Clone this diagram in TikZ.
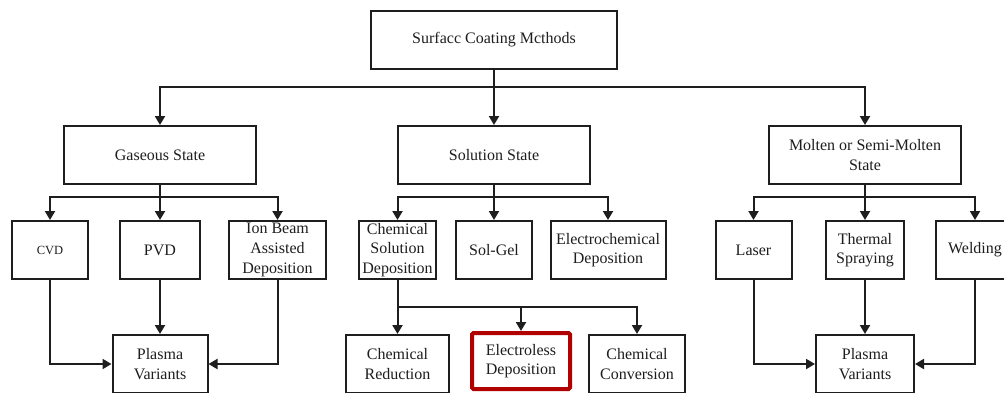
\documentclass[tikz,border=0pt]{standalone}
\usepackage{fontspec}
\setmainfont{Liberation Serif}
\usetikzlibrary{arrows.meta}
\definecolor{ink}{HTML}{1E1E1E}
\definecolor{hired}{HTML}{B00000}
\tikzset{
  box/.style={draw=ink, line width=2pt, align=center, inner sep=1pt,
    minimum height=58pt, text=ink, font=\rmfamily\fontsize{16}{19.6}\selectfont},
  redbox/.style={box, draw=hired, line width=4pt, rounded corners=1.5pt},
  arr/.style={draw=ink, line width=2pt, -{Triangle[length=9pt,width=10pt]}},
}
\begin{document}
\begin{tikzpicture}[x=1pt,y=-1pt]
\useasboundingbox (0,0) rectangle (1004,392);
\clip (0,0) rectangle (1004,392);
\fill[white] (0,0) rectangle (1004,392);
% level 0
\node[box, minimum width=246pt] (top) at (494,40) {Surfacc Coating Mcthods};
% level 1
\node[box, minimum width=192pt] (gas) at (160,155) {Gaseous State};
\node[box, minimum width=192pt] (sol) at (494,155) {Solution State};
\node[box, minimum width=192pt] (mol) at (865,155) {Molten or Semi-Molten\\State};
% level 2
\node[box, minimum width=76pt, font=\rmfamily\fontsize{12.5}{15}\selectfont] (cvd) at (50,250) {CVD};
\node[box, minimum width=80pt] (pvd) at (160,250) {PVD};
\node[box, minimum width=97pt] (ion) at (277.5,250) {Ion Beam\\Assisted\\Deposition};
\node[box, minimum width=77pt] (csd) at (397.5,250) {Chemical\\Solution\\Deposition};
\node[box, minimum width=76pt] (sg) at (494,250) {Sol-Gel};
\node[box, minimum width=115pt] (ecd) at (608,250) {Electrochemical\\Deposition};
\node[box, minimum width=76pt] (las) at (753.5,250) {Laser};
\node[box, minimum width=78pt] (ths) at (865,250) {Thermal\\Spraying};
\node[box, minimum width=78pt] (wel) at (975,250) {Welding};
% level 3
\node[box, minimum width=95pt] (pl1) at (160,364) {Plasma\\Variants};
\node[box, minimum width=103pt] (cred) at (397.5,364) {Chemical\\Reduction};
\node[redbox, minimum width=98pt, minimum height=56pt] (eld) at (521,361) {Electroless\\Deposition};
\node[box, minimum width=96pt] (ccv) at (637,364) {Chemical\\Conversion};
\node[box, minimum width=98pt] (pl2) at (865,364) {Plasma\\Variants};
% junctions
\coordinate (j0) at (494,87);
\coordinate (jg) at (160,197);
\coordinate (js) at (494,197);
\coordinate (jm) at (865,197);
\coordinate (jc) at (397.5,307);
% connectors level 0 -> 1
\draw[arr] (top.south) -- (sol.north);
\draw[arr] (j0) -| (gas.north);
\draw[arr] (j0) -| (mol.north);
% gaseous
\draw[arr] (gas.south) -- (pvd.north);
\draw[arr] (jg) -| (cvd.north);
\draw[arr] (jg) -| (ion.north);
% solution
\draw[arr] (sol.south) -- (sg.north);
\draw[arr] (js) -| (csd.north);
\draw[arr] (js) -| (ecd.north);
% molten
\draw[arr] (mol.south) -- (ths.north);
\draw[arr] (jm) -| (las.north);
\draw[arr] (jm) -| (wel.north);
% to plasma variants
\draw[arr] (cvd.south) |- (pl1.west);
\draw[arr] (pvd.south) -- (pl1.north);
\draw[arr] (ion.south) |- (pl1.east);
\draw[arr] (las.south) |- (pl2.west);
\draw[arr] (ths.south) -- (pl2.north);
\draw[arr] (wel.south) |- (pl2.east);
% chemical solution deposition
\draw[arr] (csd.south) -- (cred.north);
\draw[arr] (jc) -| (eld.north);
\draw[arr] (jc) -| (ccv.north);
\end{tikzpicture}
\end{document}
